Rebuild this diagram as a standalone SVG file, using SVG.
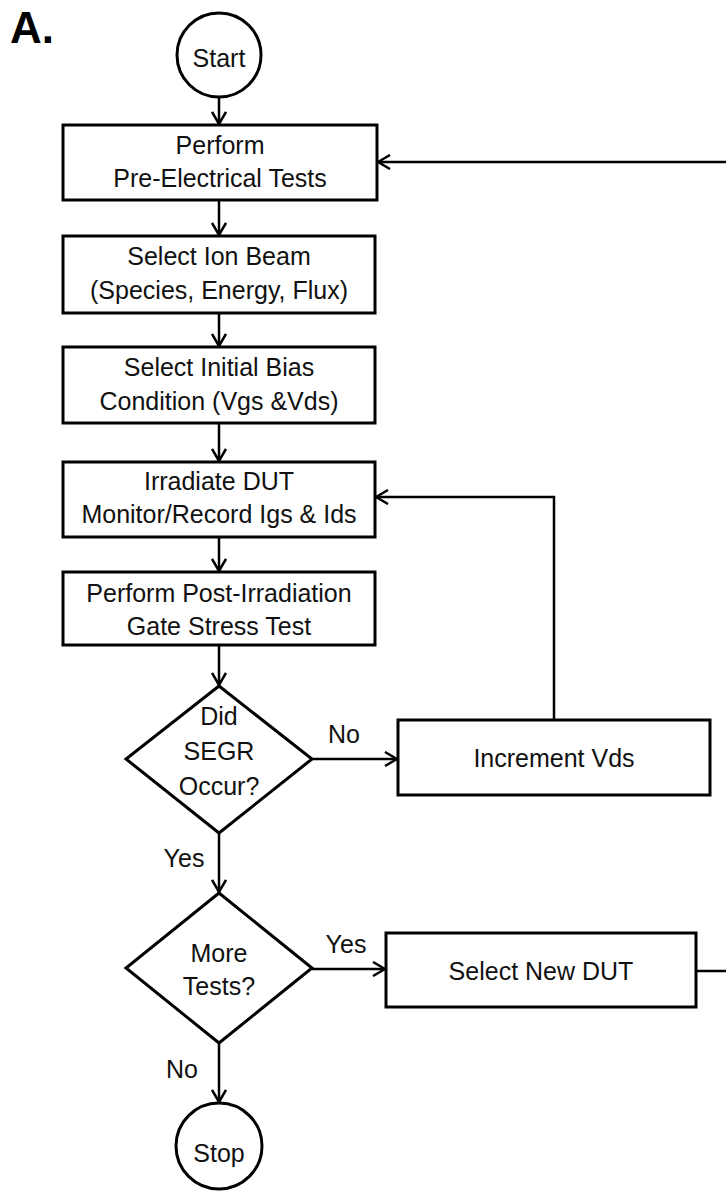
<svg xmlns="http://www.w3.org/2000/svg" width="726" height="1192" viewBox="0 0 726 1192">
<style>
.shape{fill:#fff;stroke:#000;stroke-width:3}
.t{font-family:"Liberation Sans",Arial,sans-serif;font-size:25px;fill:#111;text-anchor:middle}
.conn{fill:none;stroke:#000;stroke-width:2.5}
</style>
<defs>
<marker id="arr" viewBox="0 0 14 16" refX="13" refY="8" markerWidth="14" markerHeight="16" markerUnits="userSpaceOnUse" orient="auto">
<path d="M1,1 L13,8 L1,15" fill="none" stroke="#000" stroke-width="2.5"/>
</marker>
</defs>
<rect width="726" height="1192" fill="#fff"/>
<text x="10" y="43" style="font-family:'Liberation Sans',Arial,sans-serif;font-size:44px;font-weight:bold;fill:#000">A.</text>
<g id="connectors">
<path class="conn" d="M219,97 V124" marker-end="url(#arr)"/>
<path class="conn" d="M219,200 V235" marker-end="url(#arr)"/>
<path class="conn" d="M219,313 V346" marker-end="url(#arr)"/>
<path class="conn" d="M219,423 V461" marker-end="url(#arr)"/>
<path class="conn" d="M219,537 V571" marker-end="url(#arr)"/>
<path class="conn" d="M219,645 V685" marker-end="url(#arr)"/>
<path class="conn" d="M312,759 H397" marker-end="url(#arr)"/>
<path class="conn" d="M554,720 V497 H376" marker-end="url(#arr)"/>
<path class="conn" d="M219,833 V892" marker-end="url(#arr)"/>
<path class="conn" d="M312,969 H385" marker-end="url(#arr)"/>
<path class="conn" d="M696,971 H740 V162 H378" marker-end="url(#arr)"/>
<path class="conn" d="M219,1043 V1102" marker-end="url(#arr)"/>
</g>
<g id="start">
<circle class="shape" cx="219" cy="55" r="42"/>
<text class="t" x="219" y="67">Start</text>
</g>
<g id="pre-electrical">
<rect class="shape" x="63" y="125" width="314" height="75"/>
<text class="t" x="220" y="154">Perform</text>
<text class="t" x="220" y="187">Pre-Electrical Tests</text>
</g>
<g id="ion-beam">
<rect class="shape" x="63" y="236" width="312" height="77"/>
<text class="t" x="219" y="265">Select Ion Beam</text>
<text class="t" x="219" y="299">(Species, Energy, Flux)</text>
</g>
<g id="bias">
<rect class="shape" x="63" y="347" width="312" height="76"/>
<text class="t" x="219" y="376">Select Initial Bias</text>
<text class="t" x="219" y="410">Condition (Vgs &amp;Vds)</text>
</g>
<g id="irradiate">
<rect class="shape" x="63" y="462" width="312" height="75"/>
<text class="t" x="219" y="490">Irradiate DUT</text>
<text class="t" x="219" y="523">Monitor/Record Igs &amp; Ids</text>
</g>
<g id="post-irradiation">
<rect class="shape" x="63" y="572" width="312" height="73"/>
<text class="t" x="219" y="602">Perform Post-Irradiation</text>
<text class="t" x="219" y="635">Gate Stress Test</text>
</g>
<g id="segr">
<polygon class="shape" points="219,686 312,759 219,833 126,759"/>
<text class="t" x="219" y="725">Did</text>
<text class="t" x="219" y="760">SEGR</text>
<text class="t" x="219" y="795">Occur?</text>
</g>
<g id="increment">
<rect class="shape" x="398" y="720" width="312" height="75"/>
<text class="t" x="554" y="767">Increment Vds</text>
</g>
<g id="more-tests">
<polygon class="shape" points="219,893 312,968 219,1043 126,968"/>
<text class="t" x="219" y="962">More</text>
<text class="t" x="219" y="995">Tests?</text>
</g>
<g id="new-dut">
<rect class="shape" x="386" y="933" width="310" height="74"/>
<text class="t" x="541" y="980">Select New DUT</text>
</g>
<g id="stop">
<circle class="shape" cx="219" cy="1146" r="43"/>
<text class="t" x="219" y="1162">Stop</text>
</g>
<g id="labels">
<text class="t" x="344" y="743">No</text>
<text class="t" x="184" y="867">Yes</text>
<text class="t" x="346" y="953">Yes</text>
<text class="t" x="182" y="1078">No</text>
</g>
</svg>
